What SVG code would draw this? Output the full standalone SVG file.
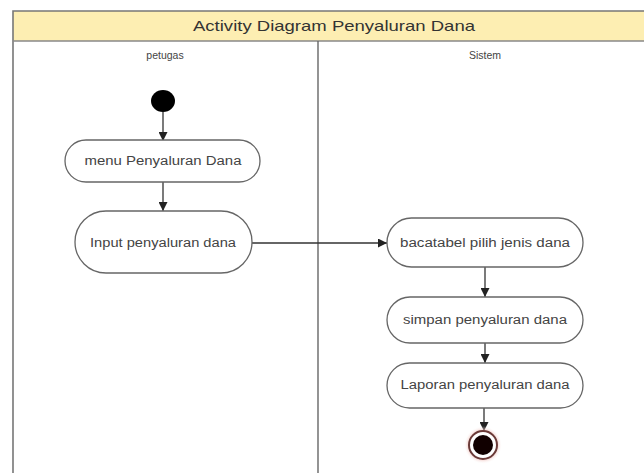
<svg xmlns="http://www.w3.org/2000/svg" width="644" height="473" viewBox="0 0 644 473">
<defs>
<style>
.lbl{font-family:"Liberation Sans",Arial,sans-serif;font-size:12px;fill:#444;text-anchor:middle;}
.hdr{font-family:"Liberation Sans",Arial,sans-serif;font-size:10.5px;fill:#444;text-anchor:middle;}
.title{font-family:"Liberation Sans",Arial,sans-serif;font-size:15px;fill:#333;text-anchor:middle;}
.act{fill:#fff;stroke:#666;stroke-width:1.3;}
.frame{fill:none;stroke:#777;stroke-width:1.6;}
.conn{stroke:#333;stroke-width:1.3;fill:none;marker-end:url(#arr);}
</style>
<marker id="arr" viewBox="0 0 10 10" refX="10" refY="5" markerWidth="9" markerHeight="9" markerUnits="userSpaceOnUse" orient="auto">
<path d="M0,0 L10,5 L0,10 z" fill="#222"/>
</marker>
<radialGradient id="glow" cx="0.5" cy="0.5" r="0.5">
<stop offset="0.7" stop-color="#e8a8a0" stop-opacity="0.8"/>
<stop offset="1" stop-color="#fff" stop-opacity="0"/>
</radialGradient>
</defs>
<rect x="0" y="0" width="644" height="473" fill="#fff"/>
<g id="frame">
<rect x="13" y="11" width="640" height="30" fill="#fdeeb2"/>
<path class="frame" d="M13,480 L13,11 L650,11"/>
<line x1="13" y1="41" x2="650" y2="41" stroke="#888" stroke-width="1.6"/>
<line x1="318" y1="41" x2="318" y2="480" stroke="#666" stroke-width="1.4"/>
<text class="title" x="334" y="31" textLength="282" lengthAdjust="spacingAndGlyphs">Activity Diagram Penyaluran Dana</text>
<text class="hdr" x="165" y="59">petugas</text>
<text class="hdr" x="485" y="59">Sistem</text>
</g>
<g id="connectors">
<line class="conn" x1="163" y1="112" x2="163" y2="141"/>
<line class="conn" x1="163" y1="182" x2="163" y2="211"/>
<line class="conn" x1="252" y1="243" x2="387" y2="243"/>
<line class="conn" x1="485" y1="267" x2="485" y2="297"/>
<line class="conn" x1="485" y1="343" x2="485" y2="363"/>
<line class="conn" x1="484" y1="408" x2="484" y2="431"/>
</g>
<g id="start">
<ellipse cx="163" cy="101" rx="12" ry="11" fill="#000"/>
</g>
<g id="menu">
<rect class="act" x="65" y="140" width="195" height="42" rx="21"/>
<text class="lbl" x="163" y="165" textLength="157" lengthAdjust="spacingAndGlyphs">menu Penyaluran Dana</text>
</g>
<g id="input">
<rect class="act" x="75" y="211" width="177" height="62" rx="31"/>
<text class="lbl" x="163" y="247" textLength="146" lengthAdjust="spacingAndGlyphs">Input penyaluran dana</text>
</g>
<g id="bacatabel">
<rect class="act" x="387" y="218" width="196" height="49" rx="24.5"/>
<text class="lbl" x="485" y="247" textLength="170" lengthAdjust="spacingAndGlyphs">bacatabel pilih jenis dana</text>
</g>
<g id="simpan">
<rect class="act" x="387" y="297" width="196" height="46" rx="23"/>
<text class="lbl" x="485" y="324" textLength="164" lengthAdjust="spacingAndGlyphs">simpan penyaluran dana</text>
</g>
<g id="laporan">
<rect class="act" x="387" y="363" width="196" height="45" rx="22.5"/>
<text class="lbl" x="485" y="389" textLength="169" lengthAdjust="spacingAndGlyphs">Laporan penyaluran dana</text>
</g>
<g id="end">
<circle cx="483" cy="445" r="19" fill="url(#glow)"/>
<circle cx="483" cy="445" r="14" fill="#fff" stroke="#6a3a38" stroke-width="2"/>
<circle cx="483" cy="445" r="10" fill="#110000"/>
</g>
</svg>
